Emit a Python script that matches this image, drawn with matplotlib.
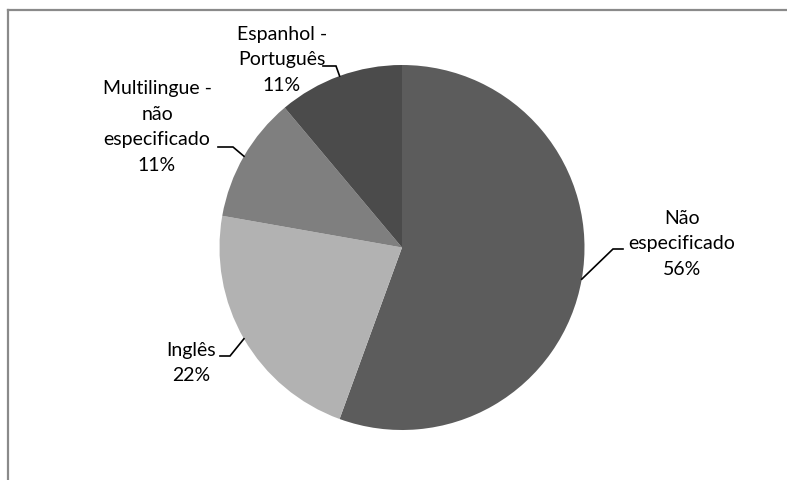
import numpy as np
import matplotlib
matplotlib.use("Agg")
import matplotlib.pyplot as plt
from matplotlib.lines import Line2D

# idiomas dos registros (contagem)
categorias = ["Não\nespecificado", "Inglês", "Multilingue -\nnão\nespecificado", "Espanhol -\nPortuguês"]
contagens = [5, 2, 1, 1]
cores = ["#5c5c5c", "#b2b2b2", "#7f7f7f", "#4b4b4b"]

W, H = 787, 481
plt.rcParams["font.family"] = ["Lato", "DejaVu Sans"]

fig = plt.figure(figsize=(W / 100, H / 100), dpi=100)
ax = fig.add_axes([0, 0, 1, 1])

cx, cy, r = 402, H - 248.5, 182.5
wedges, _ = ax.pie(contagens, colors=cores, startangle=90, counterclock=False,
                   center=(cx, cy), radius=r, frame=True,
                   wedgeprops=dict(linewidth=0))
ax.set_xlim(0, W)
ax.set_ylim(0, H)
ax.set_aspect("equal")
ax.axis("off")

# posição do rótulo (centro), cotovelo e fim da linha de chamada, em pixels da imagem
layout = [
    dict(txt=(682, 244), elbow=(613, 250), end=(623, 250)),
    dict(txt=(191, 363), elbow=(230, 357), end=(220, 357)),
    dict(txt=(157, 127), elbow=(233, 148), end=(218, 148)),
    dict(txt=(282, 60), elbow=(336, 67), end=(323, 67)),
]

total = sum(contagens)
for w, cat, n, lay in zip(wedges, categorias, contagens, layout):
    ang = np.deg2rad((w.theta1 + w.theta2) / 2)
    px, py = cx + r * np.cos(ang), cy + r * np.sin(ang)
    ex, ey = lay["elbow"]
    fx, fy = lay["end"]
    ax.plot([px, ex, fx], [py, H - ey, H - fy], color="black", lw=1.2,
            solid_joinstyle="miter", zorder=3)
    pct = round(100 * n / total)
    tx, ty = lay["txt"]
    ax.text(tx, H - ty, f"{cat}\n{pct}%", ha="center", va="center",
            fontsize=14, linespacing=1.6, color="black")

# moldura do gráfico (topo e esquerda)
fig.add_artist(Line2D([8 / W, 1], [1 - 11 / H, 1 - 11 / H], color="#8a8a8a", lw=1.6,
                      transform=fig.transFigure))
fig.add_artist(Line2D([8 / W, 8 / W], [1 - 11 / H, 0], color="#8a8a8a", lw=1.6,
                      transform=fig.transFigure))

fig.savefig("out.png", dpi=100)
